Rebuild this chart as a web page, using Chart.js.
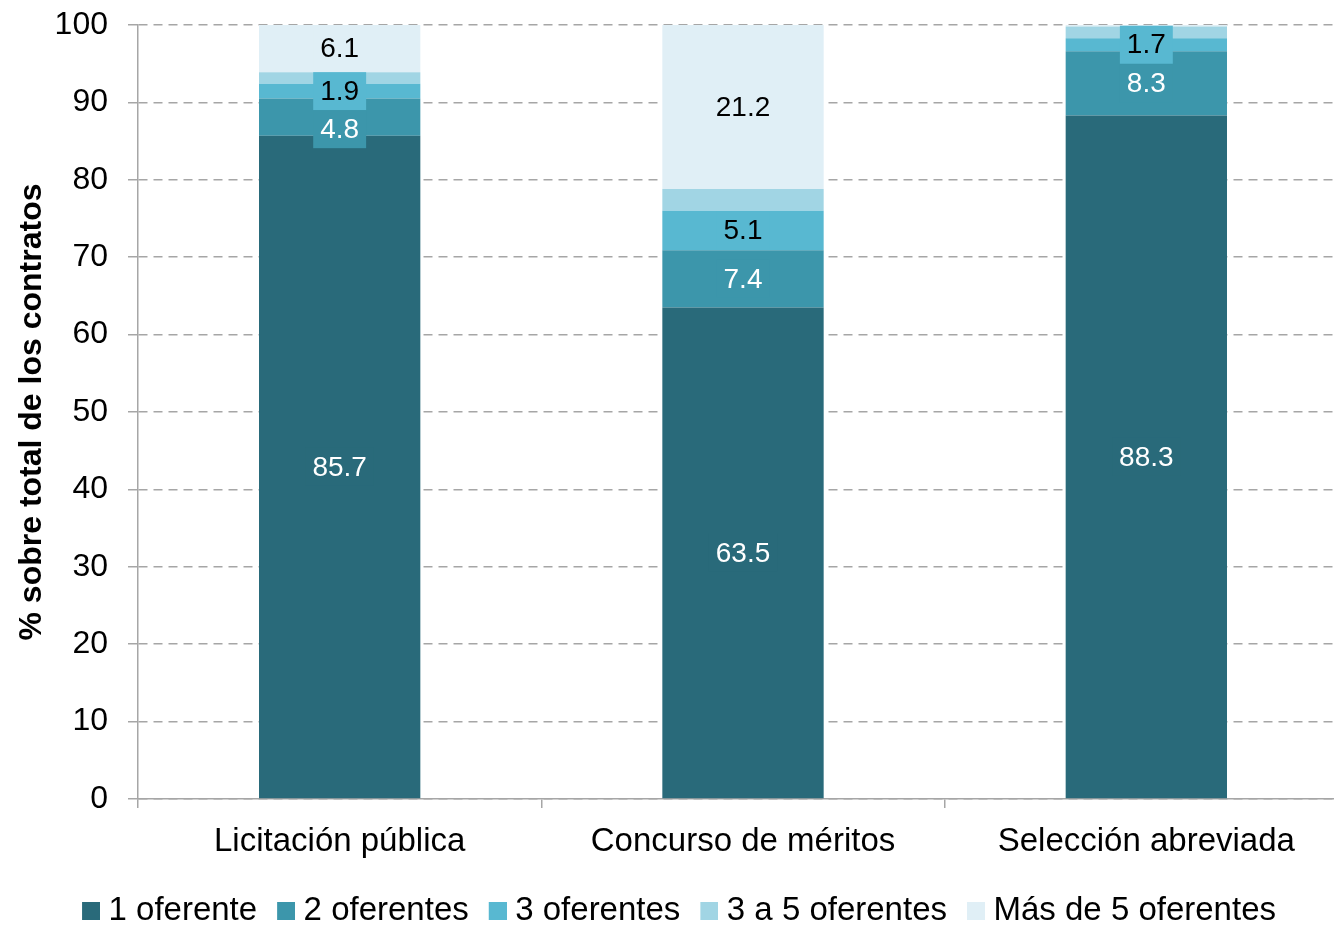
<!DOCTYPE html>
<html>
<head>
<meta charset="utf-8">
<script src="https://cdn.jsdelivr.net/npm/chart.js@4.4.0/dist/chart.umd.min.js"></script>
<style>
  html, body { margin: 0; padding: 0; background: #fff; overflow: hidden; }
  #wrap { width: 1334px; height: 925px; overflow: hidden; }
</style>
</head>
<body>
<div id="wrap"><canvas id="chart" width="1348" height="937"></canvas></div>
<script>
  const categories = ['Licitación pública', 'Concurso de méritos', 'Selección abreviada'];
  const seriesNames = ['1 oferente', '2 oferentes', '3 oferentes', '3 a 5 oferentes', 'Más de 5 oferentes'];
  const unOferente = [85.7, 63.5, 88.3];
  const dosOferentes = [4.8, 7.4, 8.3];
  const tresOferentes = [1.9, 5.1, 1.7];
  const tresACinco = [1.5, 2.8, 1.5];
  const masDeCinco = [6.1, 21.2, 0.2];
  const yMin = 0, yMax = 100, yStep = 10;

  const colors = ['#296a7a', '#3c96ab', '#58b8d1', '#a1d5e4', '#e0eff6'];
  const labelColors = ['#ffffff', '#ffffff', '#000000', '#000000', '#000000'];
  const showLabel = [true, true, true, false, true];
  const seriesData = [unOferente, dosOferentes, tresOferentes, tresACinco, masDeCinco];

  const FONT = '"Liberation Sans", Arial, sans-serif';
  const GRID = '#a6a6a6';
  const boxH = 38;

  // little square for the legend, with empty space on its left
  function swatch(color) {
    const c = document.createElement('canvas');
    c.width = 36; c.height = 18;
    const g = c.getContext('2d');
    g.fillStyle = color;
    g.fillRect(18, 0, 18, 18);
    return c;
  }

  // value labels, with a box in the segment colour; pushed down when they collide
  const segmentLabels = {
    id: 'segmentLabels',
    afterDatasetsDraw(chart) {
      const ctx = chart.ctx;
      ctx.save();
      ctx.font = '28px ' + FONT;
      ctx.textAlign = 'center';
      ctx.textBaseline = 'middle';
      categories.forEach((cat, i) => {
        const items = [];
        chart.data.datasets.forEach((ds, d) => {
          const v = ds.data[i];
          if (!showLabel[d] || v < 1) return;
          const bar = chart.getDatasetMeta(d).data[i];
          items.push({ d: d, v: v, x: bar.x, y: (bar.y + bar.base) / 2 });
        });
        items.sort((a, b) => a.y - b.y);
        let prevBottom = -Infinity;
        items.forEach(it => {
          const text = it.v.toFixed(1);
          const w = ctx.measureText(text).width + 14;
          let top = it.y - boxH / 2;
          if (top < prevBottom) top = prevBottom;
          prevBottom = top + boxH;
          ctx.fillStyle = colors[it.d];
          ctx.fillRect(it.x - w / 2, top, w, boxH);
          ctx.fillStyle = labelColors[it.d];
          ctx.fillText(text, it.x, top + boxH / 2 + 1);
        });
      });
      ctx.restore();
    }
  };

  const ctx = document.getElementById('chart').getContext('2d');
  new Chart(ctx, {
    type: 'bar',
    data: {
      labels: categories,
      datasets: seriesNames.map((name, k) => ({
        label: name,
        data: seriesData[k],
        backgroundColor: colors[k],
        borderWidth: 0,
        barPercentage: 0.4,
        categoryPercentage: 1.0
      }))
    },
    options: {
      responsive: false,
      animation: false,
      layout: { padding: { top: 25, left: 0, right: 0, bottom: 0 } },
      plugins: {
        tooltip: { enabled: false },
        legend: {
          position: 'bottom',
          labels: {
            usePointStyle: true,
            boxWidth: 20,
            boxHeight: 18,
            padding: 10,
            color: '#000',
            font: { family: FONT, size: 33 },
            generateLabels(chart) {
              const items = Chart.defaults.plugins.legend.labels.generateLabels(chart);
              return items.map((it, k) => Object.assign(it, { pointStyle: swatch(colors[k]) }));
            }
          }
        }
      },
      scales: {
        x: {
          stacked: true,
          afterFit(scale) { scale.height = 85; },
          grid: {
            offset: true,
            drawOnChartArea: false,
            drawTicks: true,
            tickLength: 9,
            color: GRID,
            lineWidth: 1.5
          },
          border: { color: GRID, width: 1.5 },
          ticks: {
            color: '#000',
            padding: 14,
            font: { family: FONT, size: 33 }
          }
        },
        y: {
          stacked: true,
          min: yMin,
          max: yMax,
          afterFit(scale) { scale.width = 138; scale.paddingTop = 0; },
          grid: {
            color: GRID,
            lineWidth: 1.5,
            tickLength: 10,
            tickColor: GRID,
            tickBorderDash: []
          },
          border: { display: true, color: GRID, width: 1.5, dash: [9, 6] },
          ticks: {
            stepSize: yStep,
            color: '#000',
            padding: 20,
            font: { family: FONT, size: 32 }
          },
          title: {
            display: true,
            text: '% sobre total de los contratos',
            color: '#000',
            padding: { top: 13, bottom: 0 },
            font: { family: FONT, size: 32, weight: 'bold' }
          }
        }
      }
    },
    plugins: [segmentLabels]
  });
</script>
</body>
</html>
